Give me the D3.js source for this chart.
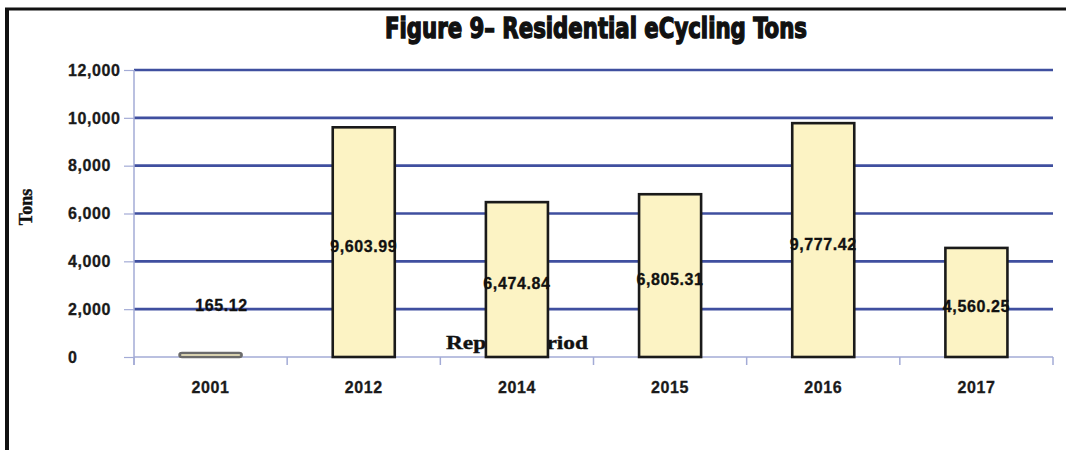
<!DOCTYPE html>
<html>
<head>
<meta charset="utf-8">
<script src="https://cdn.jsdelivr.net/npm/d3@7"></script>
<style>
  body { margin: 0; background: #fff; }
  svg { display: block; }
  .tick-label { font-family: "Liberation Sans", Arial, sans-serif; font-weight: bold; font-size: 16px; fill: #1a1a1a; stroke: #1a1a1a; stroke-width: 0.3px; letter-spacing: 0.6px; }
  .value-label { font-family: "Liberation Sans", Arial, sans-serif; font-weight: bold; font-size: 16px; fill: #111; stroke: #111; stroke-width: 0.3px; letter-spacing: 0.6px; }
  .axis-title { font-family: "Liberation Serif", "Times New Roman", serif; font-weight: bold; fill: #111; stroke: #111; stroke-width: 0.4px; }
</style>
</head>
<body>
<svg id="chart" width="1066" height="450"></svg>
<script>
// data
const years = ['2001', '2012', '2014', '2015', '2016', '2017'];
const tons = [165.12, 9603.99, 6474.84, 6805.31, 9777.42, 4560.25];
const yTicks = [0, 2000, 4000, 6000, 8000, 10000, 12000];
const titleText = 'Figure 9\u2013 Residential eCycling Tons';

function BarChart(svg) {
	let svgWidth = +svg.attr('width');
	let svgHeight = +svg.attr('height');
	let margin = {top: 70, right: 13, bottom: 93, left: 134};
	let width = svgWidth - margin.left - margin.right;
	let height = svgHeight - margin.top - margin.bottom;

	let data = years.map(function(y, i) { return {year: y, value: tons[i]}; });

	let x = d3.scaleBand()
		.domain(years)
		.range([0, width])
		.paddingInner(0.595)
		.paddingOuter(0.595 / 2);
	let step = x.step();

	let y = d3.scaleLinear()
		.domain([0, 12000])
		.range([height, 0]);

	let fmt = d3.format(',.2f');

	// page frame (scan of a report page)
	svg.append('line')
		.attr('x1', 5).attr('x2', svgWidth)
		.attr('y1', 9).attr('y2', 9)
		.attr('stroke', '#111').attr('stroke-width', 3);
	svg.append('line')
		.attr('x1', 7).attr('x2', 7)
		.attr('y1', 8).attr('y2', svgHeight)
		.attr('stroke', '#111').attr('stroke-width', 4);

	svg.append('text')
		.attr('x', 596)
		.attr('y', 37.5)
		.attr('text-anchor', 'middle')
		.attr('textLength', 422)
		.attr('lengthAdjust', 'spacingAndGlyphs')
		.style('font-family', '"Liberation Sans Narrow", "DejaVu Sans Condensed", sans-serif')
		.style('font-weight', 'bold')
		.style('font-size', '29px')
		.style('fill', '#111')
		.style('stroke', '#111')
		.style('stroke-width', '1.4px')
		.text(titleText);

	let g = svg.append('g')
		.attr('transform', 'translate(' + margin.left + ',' + margin.top + ')');

	// gridlines (dark blue), skipping zero which is the axis
	g.append('g')
		.selectAll('line')
		.data(yTicks.filter(function(d) { return d > 0; }))
		.enter().append('line')
			.attr('x1', 0).attr('x2', width)
			.attr('y1', function(d) { return y(d); })
			.attr('y2', function(d) { return y(d); })
			.attr('stroke', '#3f4f9f')
			.attr('stroke-width', 2.6);

	// y axis
	let yAxis = g.append('g')
		.call(d3.axisLeft(y).tickValues(yTicks).tickSize(10).tickFormat(''));
	yAxis.select('.domain').attr('stroke', '#a3abd6').attr('stroke-width', 1.5)
		.attr('d', 'M0,0V' + (height + 8));
	yAxis.selectAll('.tick line').attr('stroke', '#a3abd6').attr('stroke-width', 1.2);

	g.append('g')
		.selectAll('text')
		.data(yTicks)
		.enter().append('text')
			.attr('class', 'tick-label')
			.attr('x', 68 - margin.left)
			.attr('y', function(d) { return y(d); })
			.attr('dy', '0.36em')
			.text(function(d) { return d3.format(',')(d); });

	// x axis: ticks on category boundaries
	let xAxis = g.append('g')
		.attr('transform', 'translate(0,' + height + ')');
	xAxis.append('line')
		.attr('x1', 0).attr('x2', width)
		.attr('stroke', '#a3abd6').attr('stroke-width', 1.5);
	xAxis.selectAll('.bound')
		.data(d3.range(years.length + 1))
		.enter().append('line')
			.attr('class', 'bound')
			.attr('x1', function(i) { return i * step; })
			.attr('x2', function(i) { return i * step; })
			.attr('y1', 0).attr('y2', 8)
			.attr('stroke', '#a3abd6').attr('stroke-width', 1.5);
	xAxis.selectAll('.tick-label')
		.data(years)
		.enter().append('text')
			.attr('class', 'tick-label')
			.attr('x', function(d) { return x(d) + x.bandwidth() / 2; })
			.attr('y', 36)
			.attr('text-anchor', 'middle')
			.text(function(d) { return d; });

	// axis titles
	g.append('text')
		.attr('class', 'axis-title')
		.attr('x', 517 - margin.left)
		.attr('y', 348.5 - margin.top)
		.attr('text-anchor', 'middle')
		.attr('textLength', 142)
		.attr('lengthAdjust', 'spacingAndGlyphs')
		.style('font-size', '19px')
		.text('Report Period');

	svg.append('text')
		.attr('class', 'axis-title')
		.attr('transform', 'translate(32,207) rotate(-90)')
		.attr('text-anchor', 'middle')
		.style('font-size', '18px')
		.text('Tons');

	// bars
	g.append('g')
		.selectAll('rect')
		.data(data)
		.enter().append('rect')
			.attr('x', function(d) { return x(d.year); })
			.attr('y', function(d) { return y(d.value); })
			.attr('width', x.bandwidth())
			.attr('height', function(d) { return height - y(d.value); })
			.attr('rx', function(d) { return height - y(d.value) < 10 ? 2.5 : 0; })
			.attr('fill', '#fcf3c4')
			.attr('stroke', function(d) { return height - y(d.value) < 10 ? '#6b6b6b' : '#1a1a1a'; })
			.attr('stroke-width', 2.6);

	// value labels, centred on each bar; tiny bars get theirs above
	g.append('g')
		.selectAll('text')
		.data(data)
		.enter().append('text')
			.attr('class', 'value-label')
			.attr('text-anchor', 'middle')
			.attr('x', function(d) {
				let cx = x(d.year) + x.bandwidth() / 2;
				return height - y(d.value) < 20 ? cx + 11 : cx;
			})
			.attr('y', function(d) {
				let h = height - y(d.value);
				return h < 20 ? y(d.value) - 48 : y(d.value) + h / 2 + 4;
			})
			.attr('dy', '0.35em')
			.text(function(d) { return fmt(d.value); });

	return svg.node();
}

BarChart(d3.select('#chart'));
</script>
</body>
</html>
